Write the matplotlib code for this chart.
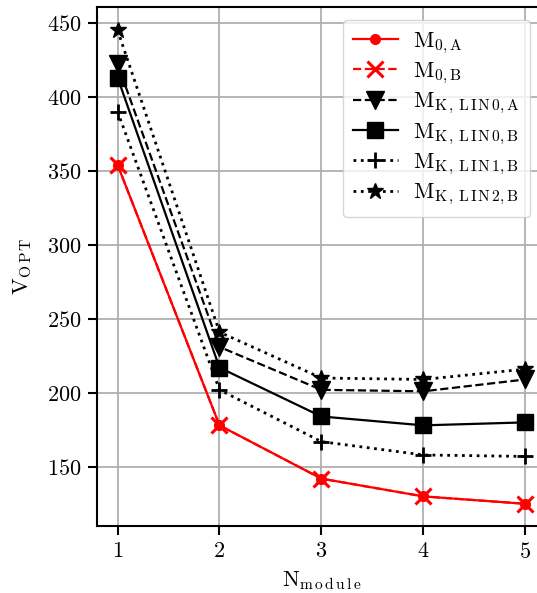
import matplotlib
matplotlib.use("Agg")
import matplotlib.pyplot as plt

plt.rcParams['font.family'] = 'serif'
plt.rcParams['font.serif'] = ['cmr10', 'DejaVu Serif']
plt.rcParams['mathtext.fontset'] = 'cm'
plt.rcParams['axes.unicode_minus'] = False
plt.rcParams['axes.formatter.use_mathtext'] = True

n_module = [1, 2, 3, 4, 5]
m0_a = [354, 178, 142, 130, 125]
m0_b = [354, 178, 142, 130, 125]
mk_lin0_a = [422, 231, 202, 201, 209]
mk_lin0_b = [413, 217, 184, 178, 180]
mk_lin1_b = [390, 202, 167, 158, 157]
mk_lin2_b = [445, 241, 210, 209, 216]

labels = [r'$\mathrm{M}_{\mathrm{0,A}}$',
          r'$\mathrm{M}_{\mathrm{0,B}}$',
          r'$\mathrm{M}_{\mathrm{K\,,\,L\,I\,N\,0,A}}$',
          r'$\mathrm{M}_{\mathrm{K\,,\,L\,I\,N\,0,B}}$',
          r'$\mathrm{M}_{\mathrm{K\,,\,L\,I\,N\,1,B}}$',
          r'$\mathrm{M}_{\mathrm{K\,,\,L\,I\,N\,2,B}}$']

fig = plt.figure(figsize=(5.37, 5.93), dpi=100)
ax = fig.add_axes([0.181, 0.113, 0.835, 0.876])

lw = 1.6
ax.plot(n_module, m0_a, color='red', linestyle='-', marker='o', markersize=7, lw=lw, label=labels[0])
ax.plot(n_module, m0_b, color='red', linestyle='--', marker='x', markersize=11, markeredgewidth=2.2, lw=lw, label=labels[1])
ax.plot(n_module, mk_lin0_a, color='black', linestyle='--', marker='v', markersize=13, lw=lw, label=labels[2])
ax.plot(n_module, mk_lin0_b, color='black', linestyle='-', marker='s', markersize=12, lw=lw, label=labels[3])
ax.plot(n_module, mk_lin1_b, color='black', linestyle=':', marker='+', markersize=12, markeredgewidth=2, lw=2, label=labels[4])
ax.plot(n_module, mk_lin2_b, color='black', linestyle=':', marker='*', markersize=12, lw=2, label=labels[5])

ax.set_xticks(n_module)
ax.set_yticks([150, 200, 250, 300, 350, 400, 450])
ax.set_xlim(0.8, 5.2)
ax.set_ylim(110, 461)
ax.grid(True, color='#b0b0b0', linewidth=1.3)
ax.set_axisbelow(True)
for s in ax.spines.values():
    s.set_linewidth(1.5)
ax.tick_params(axis='both', labelsize=16, length=6.5, width=1.5, direction='out', pad=5)
ax.set_xlabel(r'$\mathrm{N}_{\mathrm{m\,o\,d\,u\,l\,e}}$', fontsize=16, labelpad=5)
ax.set_ylabel(r'$\mathrm{V}_{\mathrm{O\,P\,T}}$', fontsize=16, labelpad=9)

leg = ax.legend(loc='upper right', bbox_to_anchor=(0.99, 0.995), fontsize=16, framealpha=0.8,
                handlelength=2.0, borderpad=0.45, labelspacing=0.22, handletextpad=0.7)

fig.savefig('out.png', dpi=100)
